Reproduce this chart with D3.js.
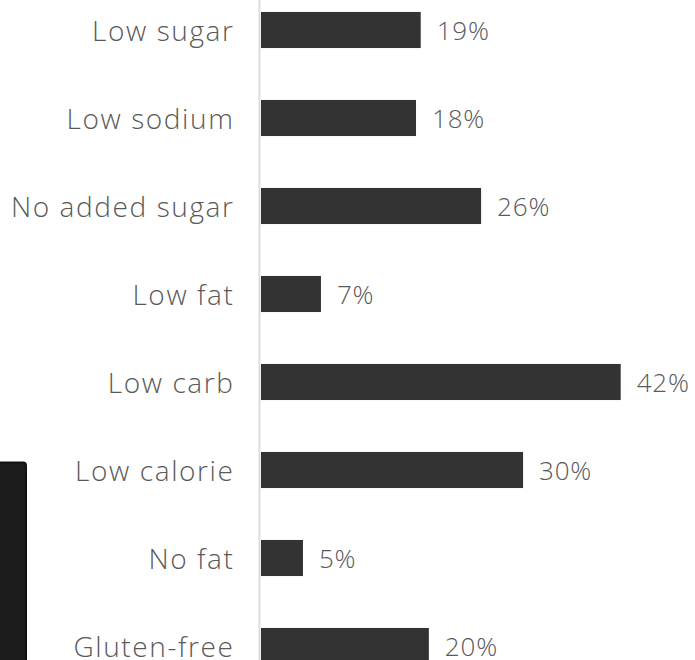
<!DOCTYPE html>
<html><head><meta charset="utf-8">
<script src="https://cdn.jsdelivr.net/npm/d3@7"></script>
<style>html,body{margin:0;padding:0;background:#fff;overflow:hidden}</style>
</head><body>
<script>
const categories = ["Low sugar","Low sodium","No added sugar","Low fat","Low carb","Low calorie","No fat","Gluten-free"];
const values = [18.65, 18.1, 25.7, 7.0, 42.0, 30.6, 4.9, 19.6];
const valueLabels = ["19%","18%","26%","7%","42%","30%","5%","20%"];

const W = 695, H = 660;
const svg = d3.select("body").append("svg").attr("width", W).attr("height", H);
const font = "'Open Sans', 'DejaVu Sans', sans-serif";

const x = d3.scaleLinear().domain([0, 42]).range([261, 620.7]);
const y = d3.scaleBand().domain(categories).range([-14, 690]).paddingInner(0.59).paddingOuter(0.295);

// axis line
svg.append("line").attr("x1", 259.5).attr("x2", 259.5).attr("y1", 0).attr("y2", H)
  .attr("stroke", "#dcdcdc").attr("stroke-width", 2);

const g = svg.append("g");
categories.forEach((c, i) => {
  const yc = y(c) + y.bandwidth() / 2;
  g.append("rect").attr("x", x(0)).attr("y", y(c)).attr("width", x(values[i]) - x(0))
    .attr("height", y.bandwidth()).attr("fill", "#333333");
  g.append("text").attr("x", 234.5).attr("y", yc + 1).attr("dy", "0.35em").attr("text-anchor", "end")
    .attr("font-family", font).attr("font-size", 28).attr("font-weight", 300)
    .attr("letter-spacing", 1.6).attr("fill", "#5a5a5a").text(c);
  g.append("text").attr("x", x(values[i]) + 16).attr("y", yc + 1).attr("dy", "0.35em")
    .attr("font-family", font).attr("font-size", 26).attr("font-weight", 300)
    .attr("letter-spacing", 0.8).attr("fill", "#5a5a5a").text(valueLabels[i]);
});

// dark tooltip-like box at lower left
svg.append("rect").attr("x", -6).attr("y", 462.5).attr("width", 32).attr("height", 210).attr("rx", 3)
  .attr("fill", "#1c1c1c").attr("stroke", "#111").attr("stroke-width", 2);
</script>
</body></html>
